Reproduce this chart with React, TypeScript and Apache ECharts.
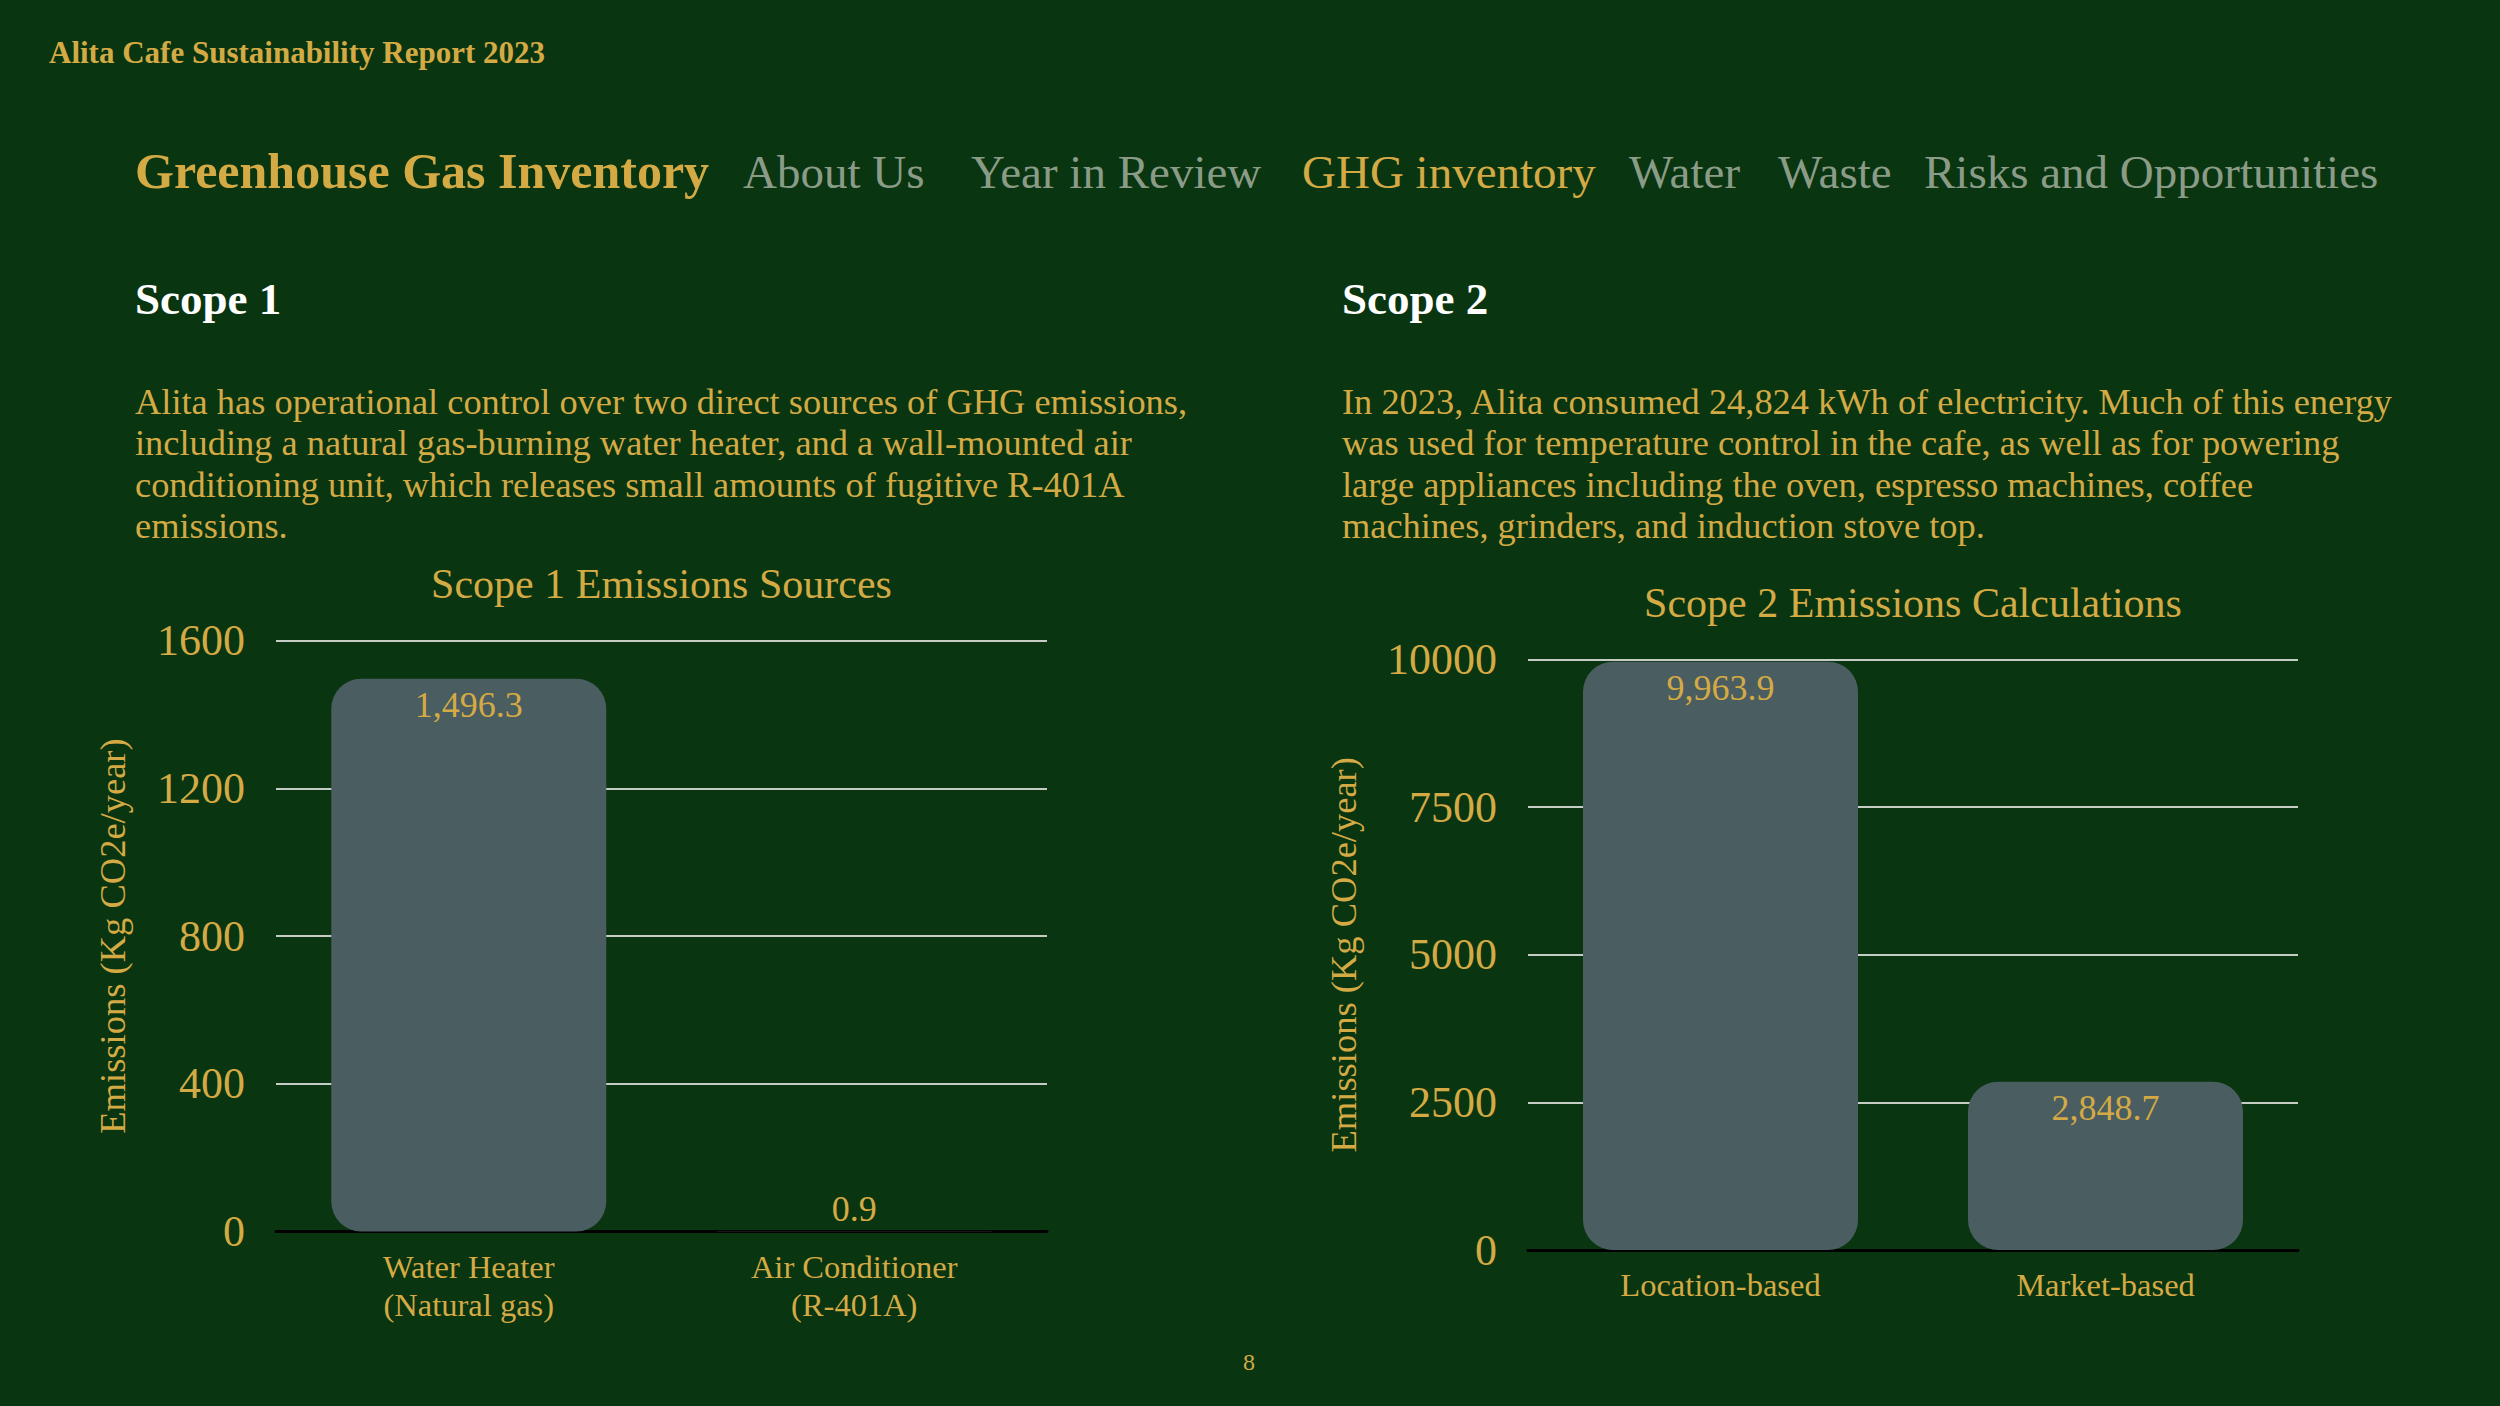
import React, { useEffect, useRef } from "react";
import * as echarts from "echarts";

const reportTitle = "Alita Cafe Sustainability Report 2023";
const pageTitle = "Greenhouse Gas Inventory";
const navItems = ["About Us", "Year in Review", "GHG inventory", "Water", "Waste", "Risks and Opportunities"];
const navActive = "GHG inventory";
const navX = [743, 971, 1302, 1629, 1778, 1924];

const scope1Heading = "Scope 1";
const scope1Text = [
  "Alita has operational control over two direct sources of GHG emissions,",
  "including a natural gas-burning water heater, and a wall-mounted air",
  "conditioning unit, which releases small amounts of fugitive R-401A",
  "emissions.",
];
const scope2Heading = "Scope 2";
const scope2Text = [
  "In 2023, Alita consumed 24,824 kWh of electricity. Much of this energy",
  "was used for temperature control in the cafe, as well as for powering",
  "large appliances including the oven, espresso machines, coffee",
  "machines, grinders, and induction stove top.",
];

const scope1ChartTitle = "Scope 1 Emissions Sources";
const scope1Categories = ["Water Heater\n(Natural gas)", "Air Conditioner\n(R-401A)"];
const scope1Values = [1496.3, 0.9];
const scope1Max = 1600;
const scope1Interval = 400;

const scope2ChartTitle = "Scope 2 Emissions Calculations";
const scope2Categories = ["Location-based", "Market-based"];
const scope2Values = [9963.9, 2848.7];
const scope2Max = 10000;
const scope2Interval = 2500;

const yAxisName = "Emissions (Kg CO2e/year)";
const pageNumber = "8";

const BG = "#0a3511";
const GOLD = "#d4aa45";
const NAV = "#8a9c88";
const BAR = "#4a5d60";
const GRIDLINE = "#c5ccc3";
const FONT = "'Liberation Serif', 'Times New Roman', serif";

const fmt = new Intl.NumberFormat("en-US", { minimumFractionDigits: 1, maximumFractionDigits: 1 });

function barData(values: number[], max: number) {
  return values.map((v) => ({
    value: v,
    label:
      v / max > 0.05
        ? { position: "insideTop", distance: 8 }
        : { position: "top", distance: 4 },
  }));
}

export default function App() {
  const ref = useRef<HTMLDivElement>(null);

  useEffect(() => {
    document.body.style.margin = "0";
    document.body.style.background = BG;
    if (!ref.current) return;
    const chart = echarts.init(ref.current, undefined, { renderer: "svg" });

    const txt = (x: number, y: number, text: string, size: number, color: string, weight = "normal", align = "left") => ({
      type: "text",
      x,
      y,
      silent: true,
      style: {
        text,
        fill: color,
        fontSize: size,
        fontWeight: weight,
        fontFamily: FONT,
        align,
        verticalAlign: "middle",
      },
    });

    const graphics: any[] = [];
    graphics.push(txt(49, 52, reportTitle, 31, GOLD, "bold"));
    graphics.push(txt(135, 171, pageTitle, 50, GOLD, "bold"));
    navItems.forEach((n, i) => {
      graphics.push(txt(navX[i], 171.5, n, 47, n === navActive ? GOLD : NAV));
    });
    graphics.push(txt(135, 299, scope1Heading, 45, "#ffffff", "bold"));
    graphics.push(txt(1342, 299, scope2Heading, 45, "#ffffff", "bold"));
    scope1Text.forEach((l, i) => graphics.push(txt(135, 402 + i * 41.3, l, 36.4, GOLD)));
    scope2Text.forEach((l, i) => graphics.push(txt(1342, 402 + i * 41.3, l, 36.4, GOLD)));
    graphics.push(txt(661.5, 584, scope1ChartTitle, 42, GOLD, "normal", "center"));
    graphics.push(txt(1913, 602.5, scope2ChartTitle, 42, GOLD, "normal", "center"));
    graphics.push(txt(1249, 1362, pageNumber, 24, GOLD, "normal", "center"));

    const xAxisCommon = {
      type: "category",
      axisTick: { show: false },
      axisLine: { show: true, lineStyle: { color: "#000000", width: 3 } },
      axisLabel: { color: GOLD, fontSize: 32.5, lineHeight: 38, fontFamily: FONT, margin: 16, interval: 0 },
      splitLine: { show: false },
    };
    const yAxisCommon = {
      type: "value",
      min: 0,
      name: yAxisName,
      nameLocation: "middle",
      nameRotate: 90,
      nameTextStyle: { color: GOLD, fontSize: 36.5, fontFamily: FONT },
      axisLine: { show: false },
      axisTick: { show: false },
      axisLabel: { color: GOLD, fontSize: 44, fontFamily: FONT, margin: 31, formatter: (v: number) => String(v) },
      splitLine: { show: true, lineStyle: { color: GRIDLINE, width: 2 } },
    };
    const seriesCommon = {
      type: "bar",
      barWidth: 275,
      itemStyle: { color: BAR, borderRadius: 30 },
      label: {
        show: true,
        color: GOLD,
        fontSize: 36,
        fontFamily: FONT,
        formatter: (p: any) => fmt.format(p.value),
      },
    };

    chart.setOption({
      animation: false,
      backgroundColor: BG,
      textStyle: { fontFamily: FONT },
      grid: [
        { left: 276, right: 1453, top: 640.5, bottom: 174.5 },
        { left: 1528, right: 202, top: 659.5, bottom: 156 },
      ],
      xAxis: [
        { ...xAxisCommon, gridIndex: 0, data: scope1Categories },
        { ...xAxisCommon, gridIndex: 1, data: scope2Categories },
      ],
      yAxis: [
        { ...yAxisCommon, gridIndex: 0, max: scope1Max, interval: scope1Interval, nameGap: 145 },
        { ...yAxisCommon, gridIndex: 1, max: scope2Max, interval: scope2Interval, nameGap: 166 },
      ],
      series: [
        { ...seriesCommon, xAxisIndex: 0, yAxisIndex: 0, data: barData(scope1Values, scope1Max) },
        { ...seriesCommon, xAxisIndex: 1, yAxisIndex: 1, data: barData(scope2Values, scope2Max) },
      ],
      graphic: graphics,
    });

    return () => chart.dispose();
  }, []);

  return <div ref={ref} style={{ width: 2500, height: 1406 }} />;
}
